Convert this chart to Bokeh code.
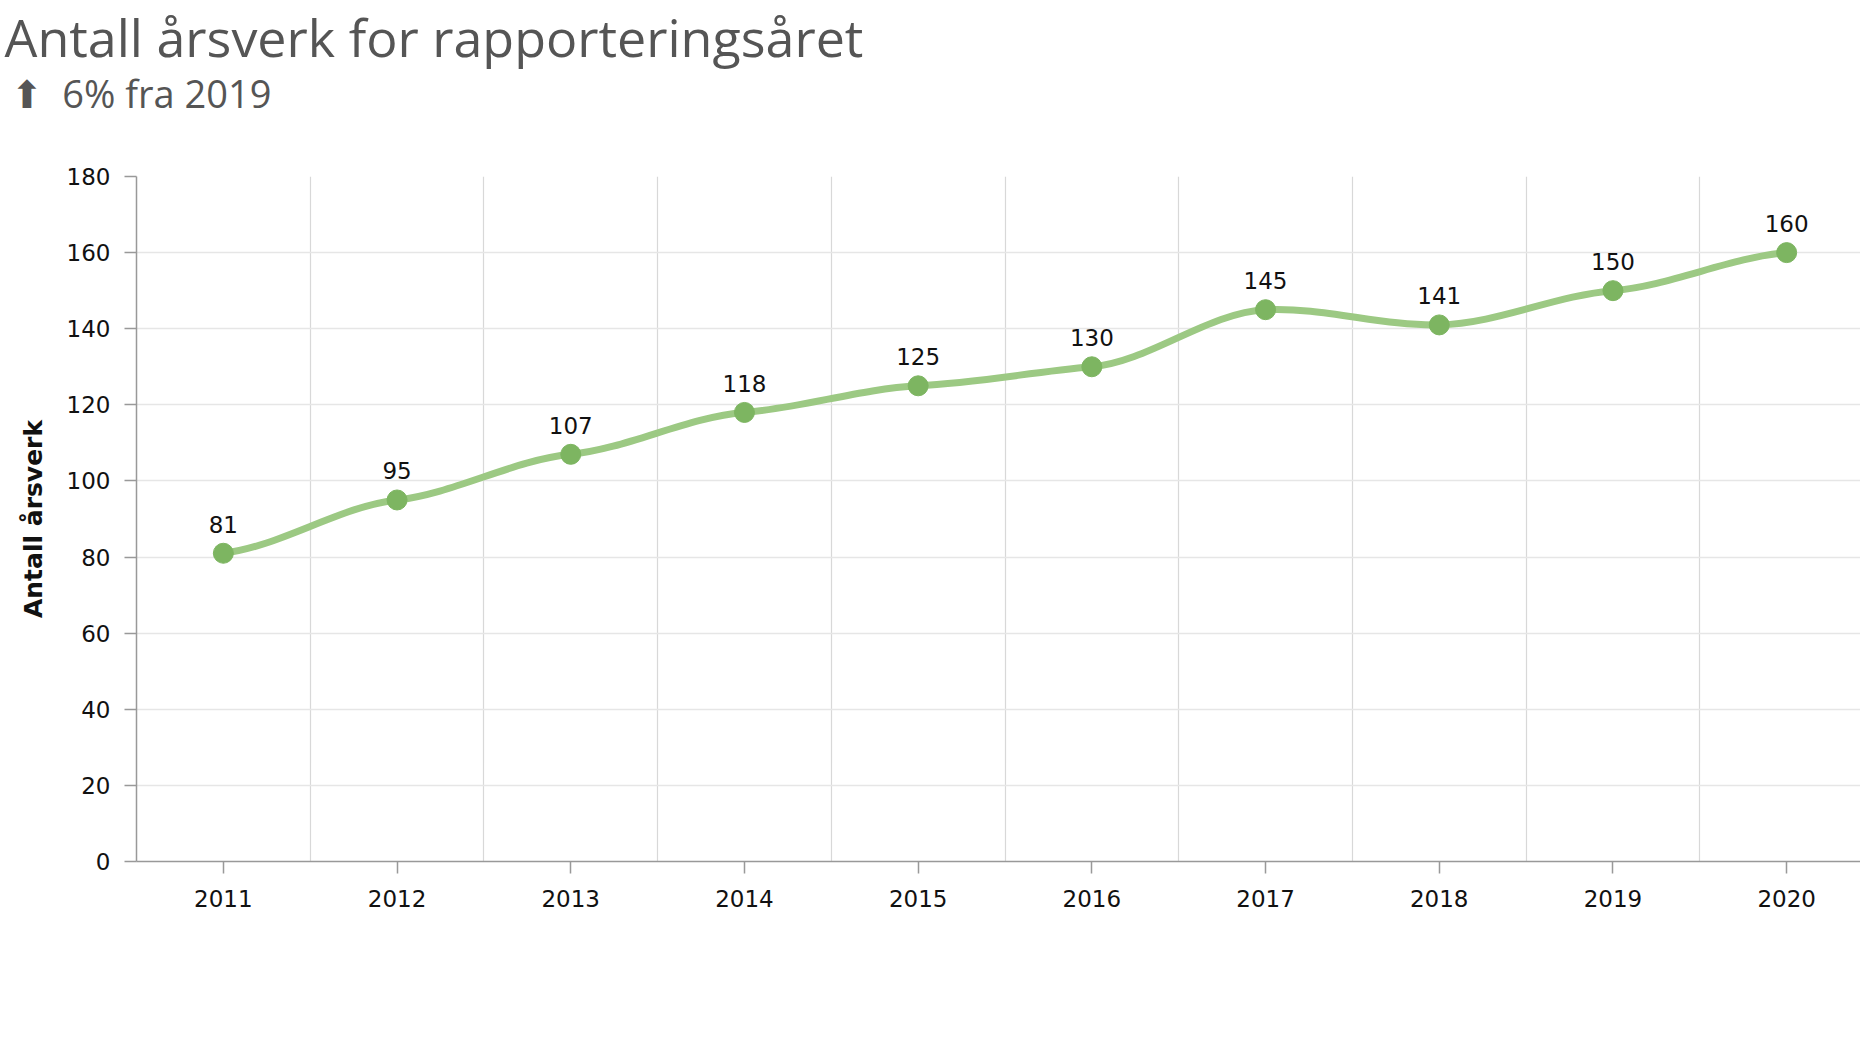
from bokeh.plotting import figure
from bokeh.models import Range1d, FixedTicker, Title, ColumnDataSource
from bokeh.embed import file_html
from bokeh.resources import INLINE
from bokeh.core.properties import value

years = [2011, 2012, 2013, 2014, 2015, 2016, 2017, 2018, 2019, 2020]
aarsverk = [81, 95, 107, 118, 125, 130, 145, 141, 150, 160]
y_ticks = [0, 20, 40, 60, 80, 100, 120, 140, 160, 180]
title_text = "Antall årsverk for rapporteringsåret"
subtitle_text = "⬆\u00a0\u00a06% fra 2019"
y_label = "Antall årsverk"

W, H = 1860, 1030
FRAME_TOP = 175
FRAME_LEFT = 136
FRAME_BOTTOM = 861
BAND = 173.7

x_end = 2010.5 + (W - FRAME_LEFT) / BAND

p = figure(width=W, height=H, output_backend="svg", toolbar_location=None, title=None,
           x_range=Range1d(2010.5, x_end), y_range=Range1d(0, 180),
           min_border_top=FRAME_TOP, min_border_left=FRAME_LEFT,
           min_border_right=0, min_border_bottom=H - FRAME_BOTTOM)
p.outline_line_color = None
p.background_fill_color = "white"
p.border_fill_color = "white"

font = "DejaVu Sans"
p.xaxis.ticker = FixedTicker(ticks=years)
p.yaxis.ticker = FixedTicker(ticks=y_ticks)
for ax in (p.xaxis[0], p.yaxis[0]):
    ax.axis_line_color = "#999999"
    ax.axis_line_width = 1.5
    ax.major_tick_line_color = "#999999"
    ax.major_tick_line_width = 1.5
    ax.minor_tick_line_color = None
    ax.major_tick_in = 0
    ax.major_tick_out = 12
    ax.major_label_text_font = font
    ax.major_label_text_font_size = "23px"
    ax.major_label_text_color = "#111111"
p.xaxis.major_label_standoff = 16
p.yaxis.major_label_standoff = 14
p.yaxis.axis_label = y_label
p.yaxis.axis_label_text_font = font
p.yaxis.axis_label_text_font_style = "bold"
p.yaxis.axis_label_text_font_size = "25px"
p.yaxis.axis_label_text_color = "#111111"
p.yaxis.axis_label_standoff = 16

p.xgrid.ticker = FixedTicker(ticks=[y + 0.5 for y in years[:-1]])
p.xgrid.grid_line_color = "#d8d8d8"
p.xgrid.grid_line_width = 1.2
p.ygrid.grid_line_color = "#e6e6e6"
p.ygrid.grid_line_width = 1.5

# smooth curve through the points (cardinal spline drawn as bezier segments)
t = 0.4
n = len(years)
m = []
for i in range(n):
    if i == 0:
        m.append(t * (aarsverk[1] - aarsverk[0]))
    elif i == n - 1:
        m.append(t * (aarsverk[-1] - aarsverk[-2]))
    else:
        m.append(t * (aarsverk[i + 1] - aarsverk[i - 1]) / 2)
seg = dict(x0=years[:-1], y0=aarsverk[:-1], x1=years[1:], y1=aarsverk[1:],
           cx0=[x + 1 / 3 for x in years[:-1]],
           cy0=[aarsverk[i] + m[i] / 3 for i in range(n - 1)],
           cx1=[x - 1 / 3 for x in years[1:]],
           cy1=[aarsverk[i + 1] - m[i + 1] / 3 for i in range(n - 1)])
p.bezier(x0="x0", y0="y0", x1="x1", y1="y1", cx0="cx0", cy0="cy0", cx1="cx1", cy1="cy1",
         source=ColumnDataSource(seg), line_color="#9cc983", line_width=7, line_cap="round")

src = ColumnDataSource(dict(x=years, y=aarsverk, lbl=[str(v) for v in aarsverk]))
p.scatter("x", "y", source=src, size=20, fill_color="#7db561", line_color="#7db561")
p.text("x", "y", text="lbl", source=src, text_font=value(font), text_font_size="23px",
       text_align="center", text_baseline="alphabetic", y_offset=-29, text_color="#111111")

# "above" panels, stacked outward from the plot: spacer, subtitle, main title
p.add_layout(Title(text="\u00a0", text_font="Open Sans", text_font_size="10px",
                   text_color="white", align="left", standoff=46.6), "above")
p.add_layout(Title(text=subtitle_text, text_font="Open Sans", text_font_size="38px",
                   text_font_style="normal", text_color="#555555", align="left",
                   offset=-126, standoff=-10.6), "above")
p.add_layout(Title(text=title_text, text_font="Open Sans", text_font_size="52px",
                   text_font_style="normal", text_color="#555555", align="left",
                   offset=-132, standoff=-3.2), "above")

open("out.html", "w").write(file_html(p, INLINE))
